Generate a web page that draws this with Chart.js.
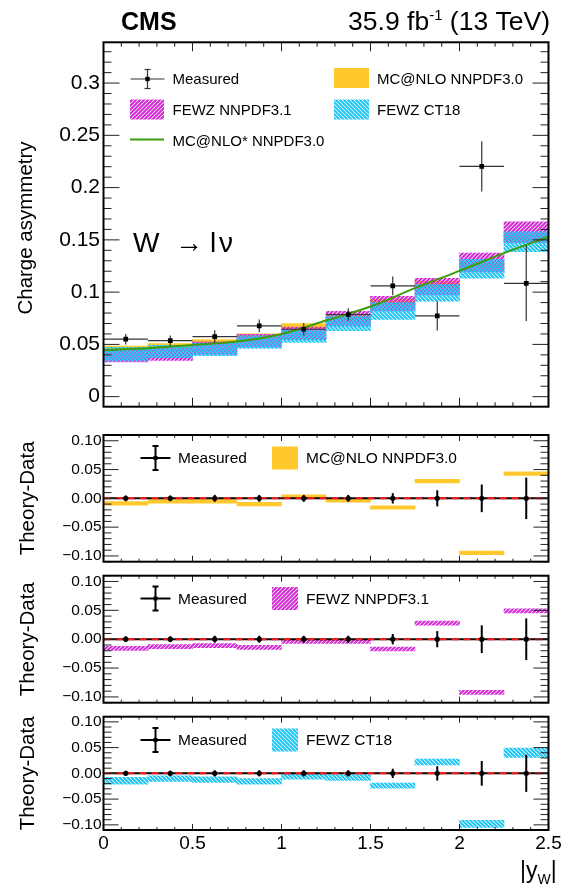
<!DOCTYPE html>
<html>
<head>
<meta charset="utf-8">
<script src="https://cdn.jsdelivr.net/npm/chart.js@4.4.1/dist/chart.umd.min.js"></script>
<style>
  body { margin: 0; background: #fff; width: 562px; height: 888px; position: relative; overflow: hidden; }
  canvas { position: absolute; left: 0; }
</style>
</head>
<body>
<canvas id="main" width="562" height="420" style="top:0px"></canvas>
<canvas id="r1" width="562" height="150" style="top:420px"></canvas>
<canvas id="r2" width="562" height="140" style="top:570px"></canvas>
<canvas id="r3" width="562" height="178" style="top:710px"></canvas>
<script>
// |y_W| bins
const binEdges = [0, 0.25, 0.5, 0.75, 1.0, 1.25, 1.5, 1.75, 2.0, 2.25, 2.5];
const binCenters = [0.125, 0.375, 0.625, 0.875, 1.125, 1.375, 1.625, 1.875, 2.125, 2.375];

// measured charge asymmetry
const measured = [0.055, 0.0536, 0.0575, 0.0677, 0.0645, 0.0786, 0.106, 0.0773, 0.2203, 0.1083];
const measuredErr = [0.005, 0.005, 0.006, 0.006, 0.006, 0.006, 0.009, 0.014, 0.024, 0.036];
const measuredRatio = [0, 0, 0, 0, 0, 0, 0, 0, 0, 0];

// theory predictions, upper panel
const mcnlo = [0.046, 0.0483, 0.0522, 0.0577, 0.0675, 0.0751, 0.090, 0.1073, 0.1256, 0.1513];
const mcnloErr = [0.0025, 0.0025, 0.0025, 0.0025, 0.0025, 0.0025, 0.003, 0.003, 0.003, 0.003];
const fewzNnpdf = [0.0392, 0.0406, 0.0465, 0.0537, 0.0605, 0.0746, 0.089, 0.1053, 0.1283, 0.1573];
const fewzNnpdfErr = [0.006, 0.006, 0.006, 0.006, 0.006, 0.007, 0.007, 0.008, 0.009, 0.010];
const fewzCt18 = [0.0407, 0.0432, 0.0452, 0.0521, 0.058, 0.0702, 0.082, 0.0993, 0.1223, 0.1483];
const fewzCt18Err = [0.0065, 0.006, 0.006, 0.006, 0.006, 0.007, 0.008, 0.008, 0.009, 0.0095];

// MC@NLO* NNPDF3.0 curve
const mcnloStarX = [0, 0.25, 0.5, 0.75, 1.0, 1.25, 1.5, 1.75, 2.0, 2.25, 2.5];
const mcnloStarY = [0.0447, 0.0463, 0.0495, 0.0527, 0.060, 0.0728, 0.0862, 0.1038, 0.1204, 0.1373, 0.153];

// theory - data
const mcnloDiff = [-0.0088, -0.0053, -0.0053, -0.010, 0.003, -0.0035, -0.016, 0.030, -0.0947, 0.043];
const mcnloDiffErr = [0.003, 0.003, 0.003, 0.003, 0.003, 0.003, 0.003, 0.003, 0.003, 0.003];
const nnpdfDiff = [-0.0158, -0.013, -0.011, -0.014, -0.004, -0.004, -0.017, 0.028, -0.092, 0.049];
const nnpdfDiffErr = [0.0035, 0.0035, 0.0035, 0.0035, 0.0035, 0.0035, 0.0035, 0.0035, 0.0035, 0.0035];
const ct18Diff = [-0.0143, -0.0104, -0.0123, -0.0156, -0.0065, -0.0084, -0.024, 0.022, -0.098, 0.040];
const ct18DiffErr = [0.0065, 0.0055, 0.0055, 0.0055, 0.005, 0.0055, 0.005, 0.0055, 0.007, 0.009];

// axes
const xTicks = [0, 0.5, 1, 1.5, 2, 2.5];
const xTickLabels = ["0", "0.5", "1", "1.5", "2", "2.5"];
const mainYTicks = [0, 0.05, 0.1, 0.15, 0.2, 0.25, 0.3];
const mainYLabels = ["0", "0.05", "0.1", "0.15", "0.2", "0.25", "0.3"];
const ratioYTicks = [-0.1, -0.05, 0, 0.05, 0.1];
const ratioYLabels = ["\u22120.10", "\u22120.05", "0.00", "0.05", "0.10"];

const FONT = '"Liberation Sans", Arial, Helvetica, sans-serif';
Chart.defaults.font.family = FONT;
Chart.defaults.color = "#000";
Chart.defaults.animation = false;

function hatch(color, forward) {
  const c = document.createElement("canvas");
  c.width = 4; c.height = 4;
  const g = c.getContext("2d");
  g.strokeStyle = color;
  g.lineWidth = 2;
  g.beginPath();
  if (forward) {
    g.moveTo(-1, 5); g.lineTo(5, -1);
    g.moveTo(-1, 1); g.lineTo(1, -1);
    g.moveTo(3, 5); g.lineTo(5, 3);
  } else {
    g.moveTo(-1, -1); g.lineTo(5, 5);
    g.moveTo(3, -1); g.lineTo(5, 1);
    g.moveTo(-1, 3); g.lineTo(1, 5);
  }
  g.stroke();
  return g.createPattern(c, "repeat");
}

const YELLOW = "#ffc92e";
const MAGENTA = hatch("#d42ad6", true);
const CYAN = hatch("#1fc6f3", false);
const GREEN = "#3c9c0a";

function bandSet(label, vals, errs, fill, order) {
  return {
    type: "bar", label, order, grouped: false,
    data: binCenters.map((x, i) => ({ x, y: [vals[i] - errs[i], vals[i] + errs[i]] })),
    backgroundColor: fill, borderWidth: 0, barPercentage: 1, categoryPercentage: 1
  };
}

function line(ctx, x1, y1, x2, y2) {
  ctx.beginPath(); ctx.moveTo(x1, y1); ctx.lineTo(x2, y2); ctx.stroke();
}

// data error bars, drawn just before the flagged dataset
const errorBars = {
  id: "errorBars",
  beforeDatasetDraw(chart, args, o) {
    if (!chart.data.datasets[args.index].errorsBefore) return;
    const { ctx, scales: { x, y } } = chart;
    ctx.save();
    ctx.strokeStyle = o.color; ctx.lineWidth = o.width;
    o.values.forEach((v, i) => {
      const px = x.getPixelForValue(binCenters[i]);
      const py = y.getPixelForValue(v);
      line(ctx, x.getPixelForValue(binEdges[i]), py, x.getPixelForValue(binEdges[i + 1]), py);
      line(ctx, px, y.getPixelForValue(v - measuredErr[i]), px, y.getPixelForValue(v + measuredErr[i]));
    });
    ctx.restore();
  }
};

function minorVals(min, max, step) {
  const out = [];
  for (let k = Math.ceil(min / step - 1e-6); k * step <= max + 1e-9; k++) out.push(k * step);
  return out;
}

// ROOT style frame with inward ticks
const frame = {
  id: "frame",
  afterDatasetsDraw(chart, args, o) {
    const { ctx, chartArea: a, scales: { x, y } } = chart;
    ctx.save();
    ctx.strokeStyle = "#222"; ctx.lineWidth = 1;
    minorVals(x.min, x.max, 0.1).forEach(v => {
      const p = x.getPixelForValue(v);
      const major = xTicks.some(t => Math.abs(t - v) < 1e-6);
      const len = major ? o.xMajor : o.xMinor;
      line(ctx, p, a.bottom, p, a.bottom - len);
      line(ctx, p, a.top, p, a.top + len);
    });
    minorVals(y.min, y.max, 0.01).forEach(v => {
      const p = y.getPixelForValue(v);
      const major = o.yMajors.some(t => Math.abs(t - v) < 1e-6);
      const len = major ? o.yMajor : o.yMinor;
      line(ctx, a.left, p, a.left + len, p);
      line(ctx, a.right, p, a.right - len, p);
    });
    ctx.strokeStyle = "#000"; ctx.lineWidth = 2;
    ctx.strokeRect(a.left, a.top, a.right - a.left, a.bottom - a.top);
    ctx.restore();
  }
};

// legends and labels (page coordinates)
const annot = {
  id: "annot",
  afterDraw(chart, args, o) {
    const ctx = chart.ctx;
    ctx.save();
    ctx.translate(0, -o.top);
    o.items.forEach(it => {
      if (it.kind === "text") {
        ctx.save();
        ctx.font = it.font; ctx.fillStyle = "#000";
        ctx.textAlign = it.align || "left"; ctx.textBaseline = it.base || "middle";
        ctx.translate(it.x, it.y);
        if (it.rot) ctx.rotate(it.rot);
        ctx.fillText(it.t, 0, 0);
        ctx.restore();
      } else if (it.kind === "rich") {
        let w = 0;
        it.parts.forEach(p => { ctx.font = p.font; w += ctx.measureText(p.t).width; });
        let cx = it.align === "right" ? it.x - w : it.x;
        ctx.textBaseline = "alphabetic"; ctx.fillStyle = "#000"; ctx.textAlign = "left";
        it.parts.forEach(p => {
          ctx.font = p.font;
          ctx.fillText(p.t, cx, it.y + (p.dy || 0));
          cx += ctx.measureText(p.t).width;
        });
      } else if (it.kind === "box") {
        ctx.fillStyle = it.fill;
        ctx.fillRect(it.x, it.y, it.w, it.h);
      } else if (it.kind === "line") {
        ctx.strokeStyle = it.color; ctx.lineWidth = it.width;
        line(ctx, it.x1, it.y, it.x2, it.y);
      } else if (it.kind === "err") {
        ctx.strokeStyle = it.color; ctx.lineWidth = it.width;
        line(ctx, it.x - it.hw, it.y, it.x + it.hw, it.y);
        line(ctx, it.x, it.y - it.vh, it.x, it.y + it.vh);
        line(ctx, it.x - it.cap, it.y - it.vh, it.x + it.cap, it.y - it.vh);
        line(ctx, it.x - it.cap, it.y + it.vh, it.x + it.cap, it.y + it.vh);
        ctx.fillStyle = "#000";
        ctx.fillRect(it.x - it.m, it.y - it.m, 2 * it.m, 2 * it.m);
      }
    });
    ctx.restore();
  }
};

function yScale(min, max, ticks, labels, fontSize, pad) {
  return {
    type: "linear", min, max,
    grid: { display: false, drawTicks: false }, border: { display: false },
    afterBuildTicks: s => { s.ticks = ticks.map(value => ({ value })); },
    afterFit: s => { s.width = 103.5; s.paddingTop = 0; s.paddingBottom = 0; },
    ticks: { autoSkip: false, padding: pad, font: { size: fontSize }, color: "#000",
      callback: (v, i) => labels[i] }
  };
}

function xScale(show) {
  return {
    type: "linear", min: 0, max: 2.5, offset: false, display: show,
    grid: { display: false, drawTicks: false }, border: { display: false },
    afterBuildTicks: s => { s.ticks = xTicks.map(value => ({ value })); },
    afterFit: s => { if (show) s.height = 58; s.paddingLeft = 0; s.paddingRight = 0; },
    ticks: { autoSkip: false, maxRotation: 0, padding: 2.5, font: { size: 19 }, color: "#000",
      callback: (v, i) => xTickLabels[i] }
  };
}

function ratioChart(id, top, padTop, padBottom, showX, diff, diffErr, fill, name, legendY) {
  const items = [
    { kind: "err", x: 155.5, y: legendY, hw: 15, vh: 12, cap: 3, m: 2, color: "#000", width: 2 },
    { kind: "text", t: "Measured", x: 178, y: legendY + 1, font: "15.5px " + FONT },
    { kind: "box", fill, x: 272, y: legendY - 11.5, w: 26, h: 23 },
    { kind: "text", t: name, x: 306, y: legendY + 1, font: "15.5px " + FONT },
    { kind: "text", t: "Theory-Data", x: 28, y: 0, font: "20.5px " + FONT, align: "center", rot: -Math.PI / 2 }
  ];
  return new Chart(document.getElementById(id), {
    type: "bar",
    data: {
      datasets: [
        { type: "line", label: "Measured", order: 0, showLine: false,
          data: binCenters.map((x, i) => ({ x, y: measuredRatio[i] })),
          pointStyle: "circle", pointRadius: 2.6, pointBackgroundColor: "#000", pointBorderWidth: 0 },
        { type: "line", label: "zero", order: 1, errorsBefore: true,
          data: [{ x: 0, y: 0 }, { x: 2.5, y: 0 }],
          borderColor: "#ff1a1a", borderWidth: 2, borderDash: [7, 5], pointRadius: 0 },
        bandSet(name, diff, diffErr, fill, 2)
      ]
    },
    options: {
      responsive: false, devicePixelRatio: 1,
      layout: { padding: { left: 0, right: 13.5, top: padTop, bottom: padBottom } },
      scales: { x: xScale(showX), y: yScale(-0.11, 0.11, ratioYTicks, ratioYLabels, 15.5, 2) },
      plugins: {
        legend: { display: false }, tooltip: { enabled: false },
        errorBars: { values: measuredRatio, color: "#000", width: 2 },
        frame: { xMajor: 6, xMinor: 3, yMajor: 15, yMinor: 8, yMajors: ratioYTicks },
        annot: { top, items }
      }
    },
    plugins: [errorBars, frame, annot, {
      id: "ytitle",
      beforeDraw(chart) {
        const a = chart.chartArea;
        items[4].y = top + (a.top + a.bottom) / 2;
      }
    }]
  });
}

// upper panel
const mainItems = [
  { kind: "text", t: "CMS", x: 121, y: 30, font: "bold 25px " + FONT, base: "alphabetic" },
  { kind: "rich", align: "right", x: 550, y: 30, parts: [
    { t: "35.9 fb", font: "26.5px " + FONT },
    { t: "-1", font: "15px " + FONT, dy: -10 },
    { t: " (13 TeV)", font: "26.5px " + FONT }
  ] },
  { kind: "text", t: "Charge asymmetry", x: 26, y: 228, font: "20.5px " + FONT, align: "center", rot: -Math.PI / 2 },
  { kind: "text", t: "W", x: 133, y: 251.5, font: "28px " + FONT, base: "alphabetic" },
  { kind: "text", t: "\u2192", x: 175, y: 251.5, font: "28px " + FONT, base: "alphabetic" },
  { kind: "text", t: "l", x: 210, y: 251.5, font: "28px " + FONT, base: "alphabetic" },
  { kind: "text", t: "\u03bd", x: 219, y: 251.5, font: "28px " + FONT, base: "alphabetic" },
  { kind: "err", x: 147.5, y: 79, hw: 17, vh: 9.5, cap: 3, m: 2.2, color: "#333", width: 1.2 },
  { kind: "text", t: "Measured", x: 172.5, y: 80, font: "15px " + FONT },
  { kind: "box", fill: YELLOW, x: 334, y: 68, w: 35, h: 20 },
  { kind: "text", t: "MC@NLO NNPDF3.0", x: 377, y: 80, font: "15px " + FONT },
  { kind: "box", fill: MAGENTA, x: 130, y: 99.5, w: 34, h: 20 },
  { kind: "text", t: "FEWZ NNPDF3.1", x: 172.5, y: 111, font: "15px " + FONT },
  { kind: "box", fill: CYAN, x: 334, y: 99.5, w: 35, h: 20 },
  { kind: "text", t: "FEWZ CT18", x: 377, y: 111, font: "15px " + FONT },
  { kind: "line", color: GREEN, width: 2, x1: 130, x2: 164, y: 139.5 },
  { kind: "text", t: "MC@NLO* NNPDF3.0", x: 172.5, y: 142, font: "15px " + FONT }
];

new Chart(document.getElementById("main"), {
  type: "bar",
  data: {
    datasets: [
      { type: "line", label: "Measured", order: 0, showLine: false, errorsBefore: true,
        data: binCenters.map((x, i) => ({ x, y: measured[i] })),
        pointStyle: "rect", pointRadius: 3.3, pointBackgroundColor: "#000", pointBorderWidth: 0 },
      { type: "line", label: "MC@NLO* NNPDF3.0", order: 1,
        data: mcnloStarX.map((x, i) => ({ x, y: mcnloStarY[i] })),
        borderColor: GREEN, borderWidth: 2, pointRadius: 0, cubicInterpolationMode: "monotone" },
      bandSet("FEWZ CT18", fewzCt18, fewzCt18Err, CYAN, 2),
      bandSet("FEWZ NNPDF3.1", fewzNnpdf, fewzNnpdfErr, MAGENTA, 3),
      bandSet("MC@NLO NNPDF3.0", mcnlo, mcnloErr, YELLOW, 4)
    ]
  },
  options: {
    responsive: false, devicePixelRatio: 1,
    layout: { padding: { left: 0, right: 13.5, top: 42.3, bottom: 13.3 } },
    scales: { x: xScale(false), y: yScale(-0.0096, 0.339, mainYTicks, mainYLabels, 21, 3.5) },
    plugins: {
      legend: { display: false }, tooltip: { enabled: false },
      errorBars: { values: measured, color: "#333", width: 1.2 },
      frame: { xMajor: 9, xMinor: 4.5, yMajor: 16, yMinor: 8, yMajors: mainYTicks },
      annot: { top: 0, items: mainItems }
    }
  },
  plugins: [errorBars, frame, annot]
});

ratioChart("r1", 420, 15, 8.3, false, mcnloDiff, mcnloDiffErr, YELLOW, "MC@NLO NNPDF3.0", 458);
ratioChart("r2", 570, 5.7, 7.3, false, nnpdfDiff, nnpdfDiffErr, MAGENTA, "FEWZ NNPDF3.1", 598.5);
ratioChart("r3", 710, 6.7, 0, true, ct18Diff, ct18DiffErr, CYAN, "FEWZ CT18", 740);

// x axis title on the last panel
(function () {
  const c = document.getElementById("r3").getContext("2d");
  c.save();
  c.fillStyle = "#000"; c.textBaseline = "alphabetic";
  let x = 520;
  c.font = "23px " + FONT; c.fillText("|y", x, 878 - 710); x += c.measureText("|y").width;
  c.font = "14px " + FONT; c.fillText("W", x, 884 - 710); x += c.measureText("W").width;
  c.font = "23px " + FONT; c.fillText("|", x, 878 - 710);
  c.restore();
})();
</script>
</body>
</html>
